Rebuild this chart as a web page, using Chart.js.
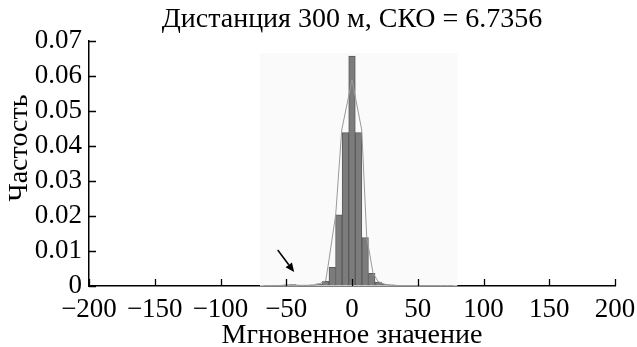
<!DOCTYPE html>
<html>
<head>
<meta charset="utf-8">
<script src="https://cdn.jsdelivr.net/npm/chart.js@4/dist/chart.umd.min.js"></script>
<style>
  html, body { margin: 0; padding: 0; background: #ffffff; }
  #wrap { width: 637px; height: 347px; position: relative; }
</style>
</head>
<body>
<div id="wrap"><canvas id="c" width="637" height="347"></canvas></div>
<script>
// ---- data ----
const TITLE = 'Дистанция 300 м, СКО = 6.7356';
const X_TITLE = 'Мгновенное значение';
const Y_TITLE = 'Частость';

// histogram bins (centres, width 5) and their frequencies
const BIN_CENTERS = [-65, -60, -55, -50, -45, -40, -35, -30, -25, -20, -15, -10, -5, 0, 5, 10, 15, 20, 25, 30, 35, 40, 45, 50, 55, 60, 65, 70, 75];
const BIN_FREQ    = [0.0001, 0.0001, 0.0002, 0.0003, 0.0004, 0.0002, 0.0002, 0.0003, 0.0006, 0.0013, 0.0053, 0.0203, 0.0438, 0.0657, 0.0438, 0.0138, 0.0036, 0.0011, 0.0005, 0.0003, 0.0002, 0.0001, 0.0001, 0.0001, 0.0001, 0.0001, 0.0001, 0.0001, 0.0001];

// fitted / polygon curve
const CURVE_X = [-70, -60, -50, -45, -40, -30, -25, -20, -18.3, -12.4, -7.8, 0, 7.4, 11.2, 16, 20, 25, 30, 40, 60, 80];
const CURVE_Y = [0, 0.0001, 0.0002, 0.0003, 0.0002, 0.0002, 0.0006, 0.0015, 0.0055, 0.0203, 0.0446, 0.0589, 0.0446, 0.0140, 0.0037, 0.0012, 0.0005, 0.0002, 0.0001, 0.0001, 0];

// axis ticks
const X_TICKS = [-200, -150, -100, -50, 0, 50, 100, 150, 200];
const X_TICK_LABELS = ['\u2212200', '\u2212150', '\u2212100', '\u221250', '0', '50', '100', '150', '200'];
const Y_TICKS = [0, 0.01, 0.02, 0.03, 0.04, 0.05, 0.06, 0.07];
const Y_TICK_LABELS = ['0', '0.01', '0.02', '0.03', '0.04', '0.05', '0.06', '0.07'];

// shaded histogram range and arrow annotation (data units)
const SHADE_RANGE = [-70, 80];
const SHADE_TOP = 0.0666;
const ARROW_FROM = [-56.5, 0.0103];
const ARROW_TO = [-44, 0.0040];

// ---- chart ----
const FONT = 'Liberation Serif';
const barData = BIN_CENTERS.map((x, i) => ({ x: x, y: BIN_FREQ[i] }));
const curveData = CURVE_X.map((x, i) => ({ x: x, y: CURVE_Y[i] }));

const decorPlugin = {
  id: 'decor',
  beforeDatasetsDraw(chart) {
    const { ctx, scales: { x, y } } = chart;
    ctx.save();
    ctx.fillStyle = '#fafafa';
    const l = x.getPixelForValue(SHADE_RANGE[0]);
    const r = x.getPixelForValue(SHADE_RANGE[1]);
    const t = y.getPixelForValue(SHADE_TOP);
    const b = y.getPixelForValue(0);
    ctx.fillRect(l, t, r - l, b - t);
    ctx.restore();
  },
  afterDraw(chart) {
    const { ctx, scales: { x, y } } = chart;
    const area = chart.chartArea;
    ctx.save();
    // titles
    ctx.fillStyle = '#000';
    ctx.font = '28px "' + FONT + '"';
    ctx.textAlign = 'center';
    ctx.textBaseline = 'middle';
    ctx.fillText(TITLE, (area.left + area.right) / 2, 20);
    ctx.save();
    ctx.translate(20, 148);
    ctx.rotate(-Math.PI / 2);
    ctx.fillText(Y_TITLE, 0, 0);
    ctx.restore();
    // inward tick marks
    ctx.strokeStyle = '#000';
    ctx.lineWidth = 1.3;
    ctx.beginPath();
    X_TICKS.forEach(v => {
      const px = Math.round(x.getPixelForValue(v)) + 0.5;
      ctx.moveTo(px, area.bottom);
      ctx.lineTo(px, area.bottom - 7);
    });
    Y_TICKS.forEach(v => {
      const py = Math.round(y.getPixelForValue(v)) + 0.5;
      ctx.moveTo(area.left, py);
      ctx.lineTo(area.left + 7, py);
    });
    ctx.stroke();
    // arrow
    const x1 = x.getPixelForValue(ARROW_FROM[0]), y1 = y.getPixelForValue(ARROW_FROM[1]);
    const x2 = x.getPixelForValue(ARROW_TO[0]), y2 = y.getPixelForValue(ARROW_TO[1]);
    const ang = Math.atan2(y2 - y1, x2 - x1);
    const hl = 9, hw = 4;
    const bx = x2 - hl * Math.cos(ang), by = y2 - hl * Math.sin(ang);
    ctx.lineWidth = 1.5;
    ctx.beginPath();
    ctx.moveTo(x1, y1);
    ctx.lineTo(bx, by);
    ctx.stroke();
    ctx.beginPath();
    ctx.moveTo(x2, y2);
    ctx.lineTo(bx + hw * Math.sin(ang), by - hw * Math.cos(ang));
    ctx.lineTo(bx - hw * Math.sin(ang), by + hw * Math.cos(ang));
    ctx.closePath();
    ctx.fill();
    ctx.restore();
  }
};

new Chart(document.getElementById('c'), {
  type: 'bar',
  data: {
    datasets: [
      {
        type: 'line',
        data: curveData,
        borderColor: '#9a9a9a',
        borderWidth: 1,
        pointRadius: 0,
        tension: 0,
        order: 0
      },
      {
        type: 'bar',
        data: barData,
        backgroundColor: '#7c7c7c',
        borderColor: '#5a5a5a',
        borderWidth: 1,
        barPercentage: 1,
        categoryPercentage: 1,
        order: 1
      }
    ]
  },
  options: {
    responsive: false,
    animation: false,
    devicePixelRatio: 1,
    layout: { padding: { left: 0, right: 0, top: 41, bottom: 0 } },
    plugins: {
      legend: { display: false },
      tooltip: { enabled: false },
      title: { display: false }
    },
    scales: {
      x: {
        type: 'linear',
        min: -200,
        max: 200,
        offset: false,
        afterBuildTicks(scale) { scale.ticks = X_TICKS.map(v => ({ value: v })); },
        afterFit(scale) { scale.height = 61; scale.paddingLeft = 0; scale.paddingRight = 22; },
        ticks: {
          color: '#000',
          font: { family: FONT, size: 27, lineHeight: 1.0 },
          padding: 10,
          maxRotation: 0,
          autoSkip: false,
          callback: (v) => { const i = X_TICKS.indexOf(v); return i >= 0 ? X_TICK_LABELS[i] : ''; }
        },
        grid: { display: true, drawOnChartArea: false, drawTicks: false },
        border: { display: true, color: '#000', width: 1.5 },
        title: {
          display: true,
          text: X_TITLE,
          color: '#000',
          font: { family: FONT, size: 28, lineHeight: 1.0 },
          padding: { top: 0, bottom: -3 }
        }
      },
      y: {
        type: 'linear',
        min: 0,
        max: 0.07,
        afterBuildTicks(scale) { scale.ticks = Y_TICKS.map(v => ({ value: v })); },
        afterFit(scale) { scale.width = 89; scale.paddingTop = 0; scale.paddingBottom = 0; },
        ticks: {
          color: '#000',
          font: { family: FONT, size: 27, lineHeight: 1.0 },
          padding: 7,
          autoSkip: false,
          callback: (v) => { const i = Y_TICKS.findIndex(t => Math.abs(t - v) < 1e-9); return i >= 0 ? Y_TICK_LABELS[i] : ''; }
        },
        grid: { display: true, drawOnChartArea: false, drawTicks: false },
        border: { display: true, color: '#000', width: 1.5 }
      }
    }
  },
  plugins: [decorPlugin]
});
</script>
</body>
</html>
